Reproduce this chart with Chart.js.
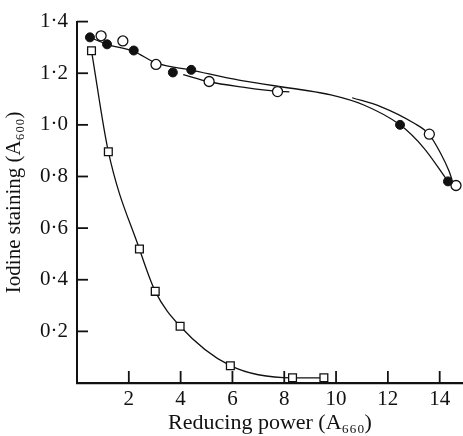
<!DOCTYPE html>
<html>
<head>
<meta charset="utf-8">
<script src="https://cdn.jsdelivr.net/npm/chart.js@4.4.1/dist/chart.umd.min.js"></script>
<style>
  html, body { margin: 0; padding: 0; background: #fff; }
  #wrap { width: 463px; height: 436px; }
</style>
</head>
<body>
<div id="wrap"><canvas id="chart" width="463" height="436"></canvas></div>
<script>
// Filled circles
const filledX = [0.5, 1.16, 2.19, 3.7, 4.41, 12.47, 14.32];
const filledY = [1.339, 1.312, 1.288, 1.203, 1.213, 1.0, 0.781];

// Open circles
const openX = [0.93, 1.77, 3.05, 5.1, 7.74, 13.6, 14.63];
const openY = [1.345, 1.325, 1.234, 1.168, 1.129, 0.964, 0.765];

// Open squares
const squareX = [0.56, 1.21, 2.41, 3.02, 3.98, 5.92, 8.32, 9.53];
const squareY = [1.287, 0.896, 0.519, 0.355, 0.22, 0.067, 0.02, 0.02];

// Hand-drawn curves
const mainCurveX = [0.5, 1.16, 2.19, 3.05, 4.41, 6.3, 8.6, 9.8, 11.07, 12.47, 13.39, 14.32];
const mainCurveY = [1.339, 1.312, 1.285, 1.24, 1.212, 1.172, 1.137, 1.116, 1.077, 1.0, 0.91, 0.781];
const openMidX = [4.1, 5.1, 6.4, 7.7, 8.2];
const openMidY = [1.195, 1.167, 1.146, 1.13, 1.128];
const openRightX = [10.62, 11.72, 13.0, 13.58, 14.03, 14.36, 14.47];
const openRightY = [1.105, 1.071, 1.007, 0.964, 0.891, 0.821, 0.789];

// Axis ticks
const xTicks = [0, 2, 4, 6, 8, 10, 12, 14];
const yTicks = [0, 0.2, 0.4, 0.6, 0.8, 1.0, 1.2, 1.4];

const FONT = "'Liberation Serif', 'Times New Roman', serif";

function pts(xs, ys) {
    return xs.map((x, i) => ({ x: x, y: ys[i] }));
}

function curve(xs, ys) {
    return {
        data: pts(xs, ys),
        showLine: true,
        borderColor: '#111',
        borderWidth: 1.3,
        pointRadius: 0,
        cubicInterpolationMode: 'monotone',
        order: 2
    };
}

// short tick marks pointing into the plot
const innerTicks = {
    id: 'innerTicks',
    beforeDatasetsDraw(chart) {
        const { ctx, chartArea, scales: { x, y } } = chart;
        ctx.save();
        ctx.strokeStyle = '#111';
        ctx.lineWidth = 1.8;
        y.ticks.forEach(t => {
            if (t.value === 0) return;
            const py = y.getPixelForValue(t.value);
            ctx.beginPath();
            ctx.moveTo(chartArea.left, py);
            ctx.lineTo(chartArea.left + 11, py);
            ctx.stroke();
        });
        x.ticks.forEach(t => {
            if (t.value === 0) return;
            const px = x.getPixelForValue(t.value);
            ctx.beginPath();
            ctx.moveTo(px, chartArea.bottom);
            ctx.lineTo(px, chartArea.bottom - 12);
            ctx.stroke();
        });
        ctx.restore();
    }
};

new Chart(document.getElementById('chart'), {
    type: 'scatter',
    data: {
        datasets: [
            {
                data: pts(filledX, filledY),
                pointStyle: 'circle',
                pointRadius: 4.5,
                backgroundColor: '#111',
                borderColor: '#111',
                borderWidth: 1,
                order: 0
            },
            {
                data: pts(openX, openY),
                pointStyle: 'circle',
                pointRadius: 5,
                backgroundColor: '#fff',
                borderColor: '#111',
                borderWidth: 1.3,
                order: 0
            },
            {
                data: pts(squareX, squareY),
                pointStyle: 'rect',
                pointRadius: 5.5,
                backgroundColor: '#fff',
                borderColor: '#111',
                borderWidth: 1.3,
                order: 0
            },
            curve(mainCurveX, mainCurveY),
            curve(openMidX, openMidY),
            curve(openRightX, openRightY),
            curve(squareX, squareY)
        ]
    },
    options: {
        responsive: false,
        animation: false,
        layout: { autoPadding: false, padding: { top: 19, right: 0, left: 0, bottom: 0 } },
        plugins: {
            legend: { display: false },
            tooltip: { enabled: false }
        },
        scales: {
            x: {
                type: 'linear',
                min: 0,
                max: 14.9,
                afterBuildTicks: (scale) => { scale.ticks = xTicks.map(v => ({ value: v })); },
                afterFit: (scale) => {
                    scale.height = 53;
                    scale.paddingLeft = 0;
                    scale.paddingRight = 0;
                },
                grid: { display: false, drawTicks: false, tickLength: 0 },
                border: { display: true, color: '#111', width: 2.2 },
                ticks: {
                    color: '#111',
                    padding: 4,
                    maxRotation: 0,
                    autoSkip: false,
                    font: { family: FONT, size: 21 },
                    callback: (v) => v === 0 ? '' : String(v)
                },
                title: {
                    display: true,
                    text: 'Reducing power (A₆₆₀)',
                    color: '#111',
                    font: { family: FONT, size: 22 },
                    padding: { top: 0, bottom: 0 }
                }
            },
            y: {
                type: 'linear',
                min: 0,
                max: 1.4,
                afterBuildTicks: (scale) => { scale.ticks = yTicks.map(v => ({ value: v })); },
                afterFit: (scale) => { scale.width = 77; },
                grid: { display: false, drawTicks: false, tickLength: 0 },
                border: { display: true, color: '#111', width: 2 },
                ticks: {
                    color: '#111',
                    padding: 9,
                    autoSkip: false,
                    font: { family: FONT, size: 21 },
                    callback: (v) => v === 0 ? '' : v.toFixed(1).replace('.', '·')
                },
                title: {
                    display: true,
                    text: 'Iodine staining (A₆₀₀)',
                    color: '#111',
                    font: { family: FONT, size: 21 },
                    padding: { top: 2, bottom: 0 }
                }
            }
        }
    },
    plugins: [innerTicks]
});
</script>
</body>
</html>
